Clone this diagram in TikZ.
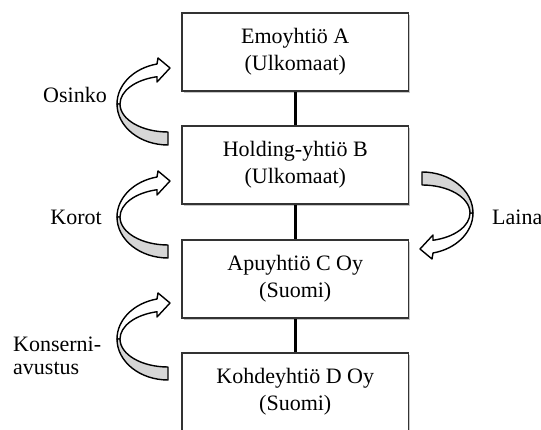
\documentclass[tikz,border=0pt]{standalone}
\usepackage{fontspec}
\setmainfont{Liberation Serif}
\usetikzlibrary{shadows}
\tikzset{
  company/.style={draw=black!80, line width=1.8pt, fill=white,
    minimum width=226.5pt, minimum height=78pt, inner sep=0pt, align=center,
    font=\fontsize{22}{27}\selectfont,
    drop shadow={shadow xshift=1.5pt, shadow yshift=-2pt, opacity=0.22, fill=black}},
  link/.style={line width=3.5pt, draw=black},
  lbl/.style={font=\fontsize{22}{23.5}\selectfont, inner sep=0pt, align=left},
  face/.style={draw=black, line width=1.4pt, line join=round},
  curvarr/.pic={
    \path[face, fill=white] (-11,27.3) -- (-11,22) -- (2,36) -- (-10,46) -- (-11,40)
      arc[start angle=102.46, end angle=180, x radius=51pt, y radius=41pt]
      -- (-48,0)
      arc[start angle=180, end angle=103.2, x radius=48pt, y radius=28pt] -- cycle;
    \path[face, fill=black!16] (-51,0)
      arc[start angle=180, end angle=270, x radius=51pt, y radius=41pt]
      -- (0,-28)
      arc[start angle=270, end angle=180, x radius=48pt, y radius=28pt] -- cycle;
  }
}
\begin{document}
\begin{tikzpicture}[x=1pt, y=1pt]
\useasboundingbox (0,0) rectangle (541,430);
\clip (0,0) rectangle (541,430);

% connectors first (behind boxes)
\coordinate (ca) at (295.25,378);
\coordinate (cb) at (295.25,265);
\coordinate (cc) at (295.25,151);
\coordinate (cd) at (295.25,38);
\draw[link] (ca) -- (cb);
\draw[link] (cb) -- (cc);
\draw[link] (cc) -- (cd);

\node[company] (A) at (ca) {Emoyhtiö A\\(Ulkomaat)};
\node[company] (B) at (cb) {Holding-yhtiö B\\(Ulkomaat)};
\node[company] (C) at (cc) {Apuyhtiö C Oy\\(Suomi)};
\node[company] (D) at (cd) {Kohdeyhtiö D Oy\\(Suomi)};

% curved arrows
\pic (osinkoarr) at (168,326) {curvarr};
\pic (korotarr) at (168,213) {curvarr};
\pic (konsarr) at (168,91) {curvarr};
\pic[rotate=180] (lainaarr) at (422,217) {curvarr};

% labels
\node[lbl, anchor=base east] (osinko) at (107,327) {Osinko};
\node[lbl, anchor=base east] (korot) at (102,205) {Korot};
\node[lbl, anchor=base west] (laina) at (492,205) {Laina};
\node[lbl, anchor=base west] (kons) at (13,55) {Konserni-\\avustus};
\end{tikzpicture}
\end{document}
